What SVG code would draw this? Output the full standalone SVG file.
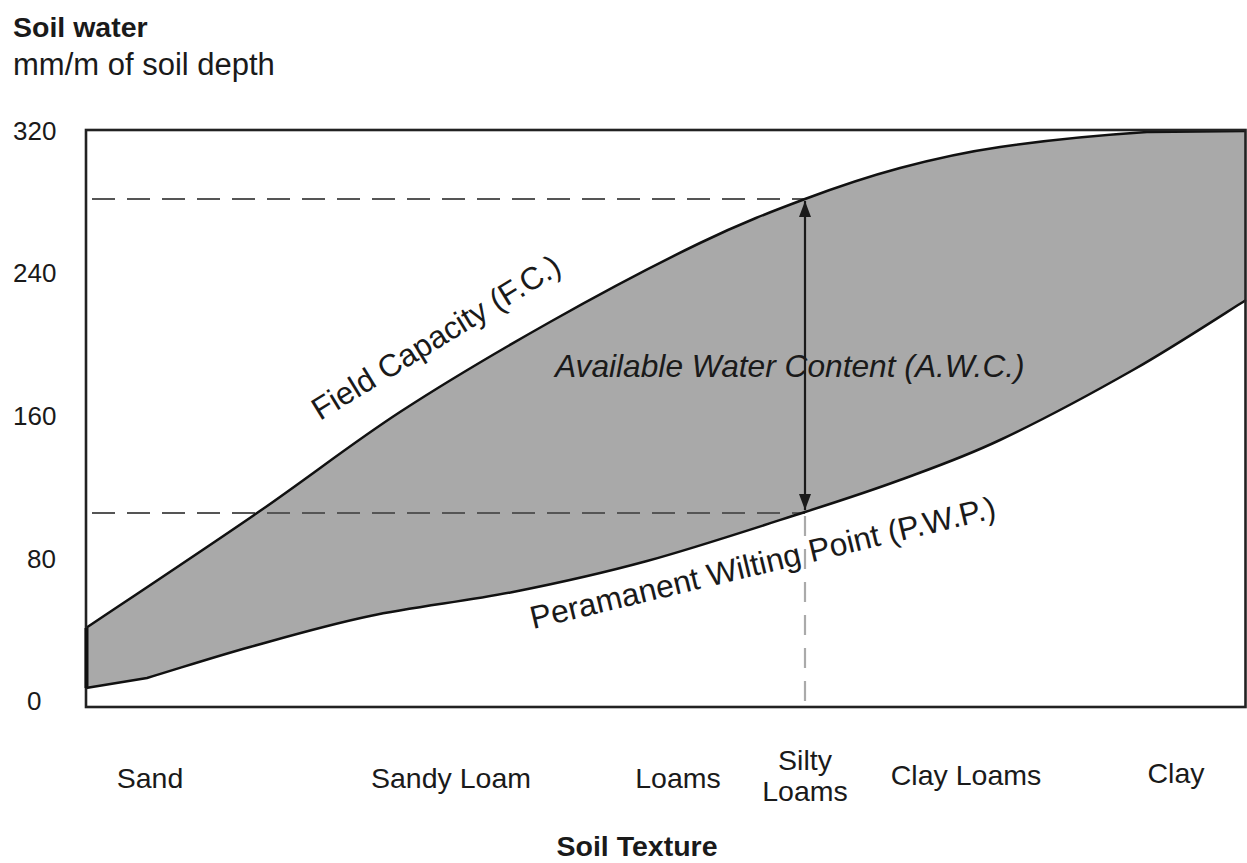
<svg xmlns="http://www.w3.org/2000/svg" width="1247" height="863" viewBox="0 0 1247 863">
<defs>
<style>
text{font-family:"Liberation Sans",Arial,sans-serif;fill:#1a1a1a}
.tick{font-size:26px}
.xl{font-size:28.5px;text-anchor:middle}
.bold{font-weight:bold}
.curve{fill:none;stroke:#111;stroke-width:2.5}
.dash{fill:none;stroke:#555;stroke-width:2.2;stroke-dasharray:23 12}
.vdash{fill:none;stroke:#aaa;stroke-width:2.2;stroke-dasharray:20 13}
</style>
<marker id="ah" viewBox="0 0 16 12" refX="16" refY="6" markerWidth="16" markerHeight="12" markerUnits="userSpaceOnUse" orient="auto-start-reverse">
<path d="M0,0 L16,6 L0,12 Z" fill="#1a1a1a"/>
</marker>
</defs>
<rect width="1247" height="863" fill="#fff"/>

<g id="title">
<text x="13" y="37" class="bold" font-size="28.5">Soil water</text>
<text x="13" y="75" font-size="31">mm/m of soil depth</text>
</g>

<g id="awc-area">
<path fill="#a9a9a9" d="M86,628 C114.5,608.8 204.7,549 257,513 C309.3,477 351.2,443.8 400,412 C448.8,380.2 500,350.2 550,322 C600,293.8 657.5,263.5 700,243 C742.5,222.5 771.7,211.5 805,199 C838.3,186.5 867.5,176.7 900,168 C932.5,159.3 958.8,153 1000,147 C1041.2,141 1106,134.7 1147,132 C1188,131.5 1229.5,131.2 1246,131 L1246,300 C1227.2,311.7 1174,346.7 1133,370 C1092,393.3 1038.8,421.7 1000,440 C961.2,458.3 932.5,468 900,480 C867.5,492 847.2,498.5 805,512 C762.8,525.5 695.7,547.7 647,561 C598.3,574.3 559.2,582.8 513,592 C466.8,601.2 413.8,606.8 370,616 C326.2,625.2 287.2,636.7 250,647 C212.8,657.3 181.3,667.7 147,678 L86,688 Z"/>
</g>

<g id="connectors">
<line class="dash" x1="92" y1="199" x2="805" y2="199"/>
<line class="dash" x1="92" y1="513" x2="805" y2="513"/>
<line class="vdash" x1="805" y1="516" x2="805" y2="707"/>
<line x1="805" y1="201" x2="805" y2="510" stroke="#1a1a1a" stroke-width="2.2" marker-start="url(#ah)" marker-end="url(#ah)"/>
</g>

<g id="field-capacity">
<path class="curve" d="M86,628 C114.5,608.8 204.7,549 257,513 C309.3,477 351.2,443.8 400,412 C448.8,380.2 500,350.2 550,322 C600,293.8 657.5,263.5 700,243 C742.5,222.5 771.7,211.5 805,199 C838.3,186.5 867.5,176.7 900,168 C932.5,159.3 958.8,153 1000,147 C1041.2,141 1106,134.7 1147,132 C1188,131.5 1229.5,131.2 1246,131"/>
<text transform="translate(320,421) rotate(-31.5)" font-size="31.5">Field Capacity (F.C.)</text>
</g>

<g id="wilting-point">
<path class="curve" d="M86,688 L147,678 C181.3,667.7 212.8,657.3 250,647 C287.2,636.7 326.2,625.2 370,616 C413.8,606.8 466.8,601.2 513,592 C559.2,582.8 598.3,574.3 647,561 C695.7,547.7 762.8,525.5 805,512 C847.2,498.5 867.5,492 900,480 C932.5,468 961.2,458.3 1000,440 C1038.8,421.7 1092,393.3 1133,370 C1174,346.7 1227.2,311.7 1246,300"/>
<text transform="translate(533,629) rotate(-13.5)" font-size="31.8">Peramanent Wilting Point (P.W.P.)</text>
</g>

<g id="awc-label">
<text x="555" y="377" font-size="31.7" font-style="italic">Available Water Content (A.W.C.)</text>
</g>

<g id="frame">
<rect x="86" y="130" width="1159.5" height="577" fill="none" stroke="#222" stroke-width="2.6"/>
<line x1="86.5" y1="628" x2="86.5" y2="688" stroke="#111" stroke-width="4"/>
</g>

<g id="y-axis">
<text class="tick" x="13" y="140">320</text>
<text class="tick" x="13" y="282">240</text>
<text class="tick" x="13" y="425">160</text>
<text class="tick" x="27" y="568">80</text>
<text class="tick" x="27" y="710">0</text>
</g>

<g id="x-axis">
<text class="xl" x="150" y="788">Sand</text>
<text class="xl" x="451" y="788">Sandy Loam</text>
<text class="xl" x="678" y="788">Loams</text>
<text class="xl" x="805" y="770">Silty</text>
<text class="xl" x="805" y="801">Loams</text>
<text class="xl" x="966" y="785">Clay Loams</text>
<text class="xl" x="1176" y="783">Clay</text>
<text class="xl bold" x="637" y="856">Soil Texture</text>
</g>
</svg>
